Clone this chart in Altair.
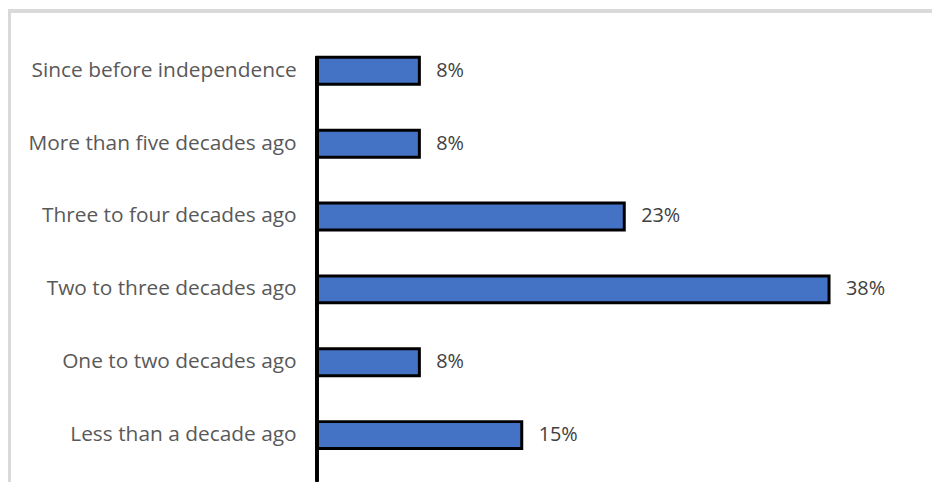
import altair as alt
import pandas as pd

categories = [
    "Since before independence",
    "More than five decades ago",
    "Three to four decades ago",
    "Two to three decades ago",
    "One to two decades ago",
    "Less than a decade ago",
]
values = [7.69, 7.69, 23.08, 38.46, 7.69, 15.38]
labels = ["8%", "8%", "23%", "38%", "8%", "15%"]

df = pd.DataFrame({"category": categories, "value": values, "label": labels})

FONT = "Open Sans"

PL, PT, PB = 311, 25, 10
W, H = 619, 440

xs = alt.Scale(domain=[0, W / 13.4], nice=False, zero=True)
ys = alt.Scale(paddingInner=0.63, paddingOuter=0.315)

base = alt.Chart(df).transform_calculate(zero="0")

X = alt.X("value:Q", scale=xs, axis=None)
X0 = alt.X("zero:Q", scale=xs, axis=None)
Y = alt.Y("category:N", sort=categories, scale=ys, axis=None)

bars = base.mark_bar(color="#4472C4", stroke="black", strokeWidth=3).encode(x=X, y=Y)

vals = base.mark_text(align="left", baseline="middle", dx=17, font=FONT,
                      fontSize=20, color="#404040").encode(x=X, y=Y, text="label:N")

cats = base.mark_text(align="right", baseline="middle", dx=-20.5, font=FONT,
                      fontSize=21, color="#595959").encode(x=X0, y=Y, text="category:N")

axis_line = base.mark_rule(color="black", strokeWidth=3).encode(
    x=X0, y=alt.value(47 - PT), y2=alt.value(H + PB)
)
border_top = base.mark_rule(color="#D9D9D9", strokeWidth=3).encode(
    x=alt.value(-PL), x2=alt.value(W + 20), y=alt.value(-PT + 1.5)
)
border_left = base.mark_rule(color="#D9D9D9", strokeWidth=3).encode(
    x=alt.value(-PL + 1.5), y=alt.value(-PT), y2=alt.value(H + PB)
)

chart = alt.layer(border_top, border_left, bars, axis_line, vals, cats).properties(
    width=W, height=H,
    padding={"left": PL, "top": PT, "right": 0, "bottom": PB},
    autosize="none", background="white",
).configure_view(stroke=None)

chart.save("out.html", embed_options={"renderer": "svg", "actions": False})
